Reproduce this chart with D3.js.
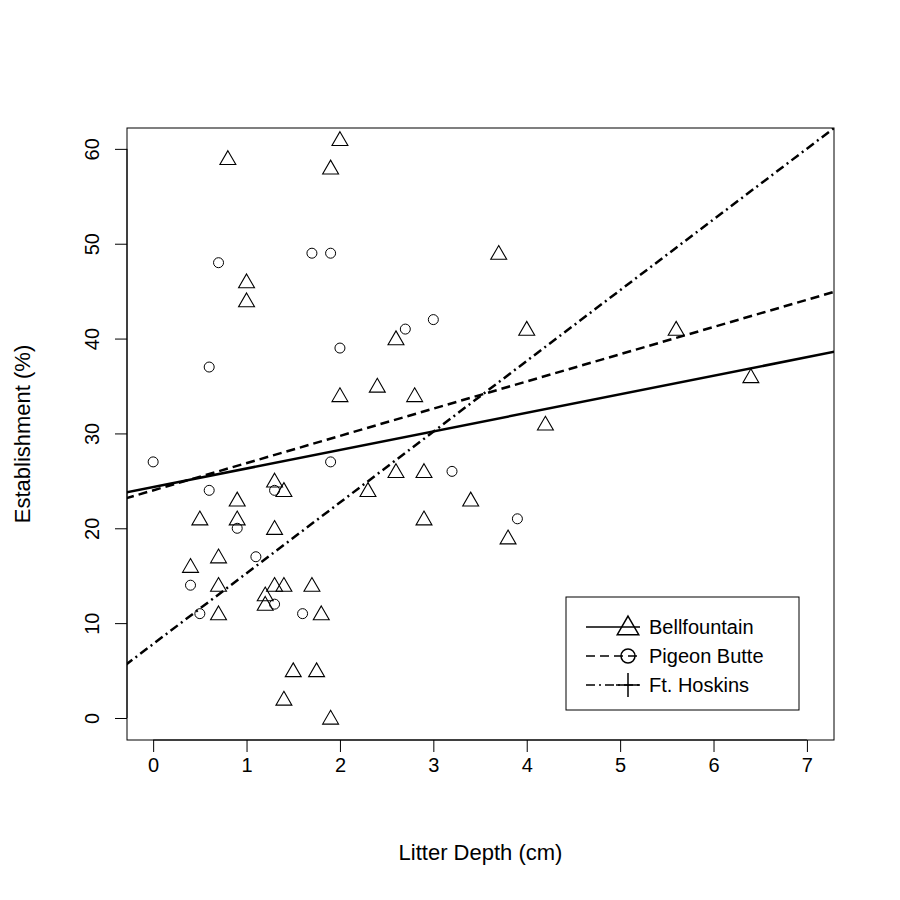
<!DOCTYPE html>
<html><head><meta charset="utf-8">
<script src="https://cdn.jsdelivr.net/npm/d3@7"></script>
<style>body{margin:0;background:#fff}svg{font-family:"Liberation Sans",Arial,sans-serif}</style>
</head><body><svg id="chart" width="900" height="900"></svg>
<script>
// Bellfountain (triangles)
let bellX = [0.8,2,1.9,1,1,3.7,4,2.6,5.6,6.4,2.4,2.8,2,4.2,1.3,1.4,2.3,2.6,2.9,3.4,0.9,0.5,0.9,2.9,1.3,3.8,0.4,0.7,0.7,1.3,1.4,1.7,1.2,1.2,0.7,1.8,1.5,1.75,1.4,1.9]
let bellY = [59,61,58,46,44,49,41,40,41,36,35,34,34,31,25,24,24,26,26,23,23,21,21,21,20,19,16,17,14,14,14,14,13,12,11,11,5,5,2,0]
// Pigeon Butte (circles)
let pigX = [0,0.7,0.6,1.7,1.9,2,2.7,3,1.9,3.2,0.6,1.3,0.9,1.1,3.9,0.4,0.5,1.3,1.6]
let pigY = [27,48,37,49,49,39,41,42,27,26,24,24,20,17,21,14,11,12,11]
// fitted lines: intercept, slope
let lineNames = ['Bellfountain','Pigeon Butte','Ft. Hoskins']
let intercepts = [24.35, 24.0, 7.8]
let slopes = [1.955, 2.87, 7.46]
let dashes = ['none', '9,5', '9,4,2,4']
let xTicks = [0,1,2,3,4,5,6,7]
let yTicks = [0,10,20,30,40,50,60]

let svg = d3.select('#chart')
let pl = 127, pr = 834, pt = 128, pb = 740
let x = d3.scaleLinear().domain([-0.28, 7.29]).range([pl, pr])
let y = d3.scaleLinear().domain([-2.32, 62.2]).range([pb, pt])

svg.append('clipPath').attr('id', 'clip').append('rect')
    .attr('x', pl).attr('y', pt).attr('width', pr - pl).attr('height', pb - pt)

svg.append('g').attr('transform', 'translate(0,' + pb + ')')
    .call(d3.axisBottom(x).tickValues(xTicks).tickSize(12).tickPadding(6).tickFormat(d3.format('d')))
    .call(g => g.select('.domain').remove())
    .call(g => g.selectAll('text').style('font-size', '20px').attr('fill', '#000'))
svg.append('line').attr('x1', x(0)).attr('x2', x(7)).attr('y1', pb).attr('y2', pb).attr('stroke', '#000')

let ya = svg.append('g').attr('transform', 'translate(' + pl + ',0)')
    .call(d3.axisLeft(y).tickValues(yTicks).tickSize(12))
ya.select('.domain').remove()
ya.selectAll('.tick text').style('font-size', '20px').attr('fill', '#000')
    .attr('text-anchor', 'middle').attr('transform', 'rotate(-90)')
    .attr('x', 0).attr('y', -28).attr('dy', '0')
svg.append('line').attr('x1', pl).attr('x2', pl).attr('y1', y(0)).attr('y2', y(60)).attr('stroke', '#000')

svg.append('rect').attr('x', pl).attr('y', pt).attr('width', pr - pl).attr('height', pb - pt)
    .attr('fill', 'none').attr('stroke', '#000')

let tri = d3.symbol().type(d3.symbolTriangle).size(110)
svg.append('g').selectAll('path').data(bellX).enter().append('path')
    .attr('d', tri).attr('fill', 'none').attr('stroke', '#000').attr('stroke-width', 1.1)
    .attr('transform', (d, i) => 'translate(' + x(d) + ',' + (y(bellY[i]) + 1.5) + ')')
svg.append('g').selectAll('circle').data(pigX).enter().append('circle')
    .attr('cx', (d) => x(d)).attr('cy', (d, i) => y(pigY[i])).attr('r', 5)
    .attr('fill', 'none').attr('stroke', '#000')

svg.append('g').attr('clip-path', 'url(#clip)').selectAll('line').data(intercepts).enter().append('line')
    .attr('x1', x(-0.3)).attr('x2', x(7.4))
    .attr('y1', (d, i) => y(d + slopes[i] * -0.3)).attr('y2', (d, i) => y(d + slopes[i] * 7.4))
    .attr('stroke', '#000').attr('stroke-width', 2.5).attr('stroke-dasharray', (d, i) => dashes[i])

let lg = svg.append('g')
lg.append('rect').attr('x', 566).attr('y', 597).attr('width', 233).attr('height', 113)
    .attr('fill', '#fff').attr('stroke', '#000')
lineNames.forEach((name, i) => {
    let ly = 627 + i * 29
    lg.append('line').attr('x1', 586).attr('x2', 640).attr('y1', ly).attr('y2', ly)
        .attr('stroke', '#000').attr('stroke-width', 1.5).attr('stroke-dasharray', dashes[i])
    if (i === 0) lg.append('path').attr('d', d3.symbol().type(d3.symbolTriangle).size(200)).attr('fill', 'none').attr('stroke', '#000').attr('stroke-width', 1.5)
        .attr('transform', 'translate(628,' + (ly + 1.5) + ')')
    if (i === 1) lg.append('circle').attr('cx', 628).attr('cy', ly).attr('r', 7).attr('fill', 'none').attr('stroke', '#000').attr('stroke-width', 1.5)
    if (i === 2) lg.append('path').attr('d', 'M616,' + ly + 'H640M628,' + (ly - 12) + 'V' + (ly + 12)).attr('stroke', '#000').attr('stroke-width', 1.5)
    lg.append('text').attr('x', 649).attr('y', ly).attr('dy', '0.35em').style('font-size', '20px').text(name)
})

svg.append('text').attr('x', (pl + pr) / 2).attr('y', 860).attr('text-anchor', 'middle')
    .style('font-size', '22px').text('Litter Depth (cm)')
svg.append('text').attr('transform', 'translate(30,' + (pt + pb) / 2 + ') rotate(-90)')
    .attr('text-anchor', 'middle').style('font-size', '22px').text('Establishment (%)')
</script></body></html>
